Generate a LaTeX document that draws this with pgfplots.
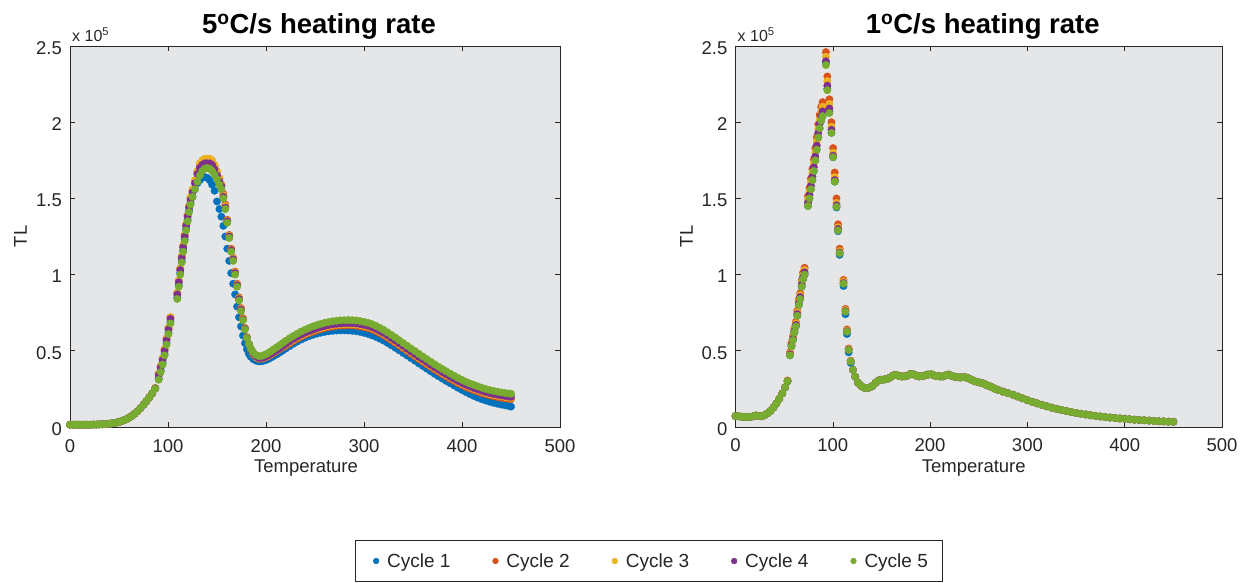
\documentclass[border=0pt]{standalone}
\usepackage{pgfplots}
\pgfplotsset{compat=1.18}
\usepackage{pgfplotstable}
\usepackage{fontspec}
\setmainfont{Liberation Sans}
\definecolor{c1}{RGB}{0,114,189}
\definecolor{c2}{RGB}{217,83,25}
\definecolor{c3}{RGB}{237,177,32}
\definecolor{c4}{RGB}{126,47,142}
\definecolor{c5}{RGB}{119,172,48}
\definecolor{bgg}{RGB}{229,230,232}
\definecolor{axc}{RGB}{38,38,38}

\pgfplotstableread{
x c1 c2 c3 c4 c5
0 .015 .015 .015 .015 .015
3 .015 .015 .015 .015 .015
6 .015 .015 .015 .015 .015
9 .015 .015 .015 .015 .015
12 .015 .015 .015 .015 .015
15 .015 .015 .015 .015 .015
18 .015 .015 .015 .015 .015
21 .015 .015 .015 .015 .015
24 .016 .016 .016 .016 .016
27 .016 .016 .016 .016 .016
30 .017 .017 .017 .017 .017
33 .018 .018 .018 .018 .018
36 .019 .019 .019 .019 .019
39 .021 .021 .021 .021 .021
42 .023 .023 .023 .023 .023
45 .026 .026 .026 .026 .026
48 .030 .030 .030 .030 .030
51 .035 .035 .035 .035 .035
54 .042 .042 .042 .042 .042
57 .050 .050 .050 .050 .050
60 .060 .060 .060 .060 .060
63 .072 .072 .072 .072 .072
66 .087 .087 .087 .087 .087
69 .104 .104 .104 .104 .104
72 .124 .124 .124 .124 .124
75 .146 .146 .146 .146 .146
78 .170 .170 .170 .170 .170
81 .195 .195 .195 .195 .195
84 .222 .222 .222 .222 .222
87 .252 .255 .256 .254 .252
90.5 .32 .35 .35 .34 .31
92.5 .37 .40 .40 .39 .36
94.5 .42 .45 .45 .44 .41
96.5 .48 .51 .51 .50 .47
98.5 .55 .58 .58 .57 .54
100.5 .62 .65 .65 .64 .61
102.5 .69 .72 .72 .71 .68
109.5 .85 .88 .88 .87 .84
111 .93 .96 .96 .95 .92
112.5 1.01 1.04 1.04 1.03 1.00
114 1.09 1.12 1.12 1.11 1.08
115.5 1.16 1.19 1.19 1.18 1.15
117 1.23 1.26 1.26 1.25 1.22
118.5 1.30 1.33 1.33 1.32 1.29
120 1.36 1.39 1.39 1.38 1.35
121.5 1.42 1.45 1.45 1.44 1.41
123 1.47 1.50 1.51 1.49 1.46
125 1.51 1.55 1.56 1.54 1.51
127.5 1.56 1.61 1.62 1.60 1.56
130 1.60 1.67 1.68 1.66 1.61
132.5 1.62 1.72 1.73 1.70 1.65
135 1.635 1.74 1.75 1.72 1.68
137.5 1.64 1.75 1.76 1.73 1.695
140 1.635 1.75 1.76 1.73 1.70
142.5 1.62 1.75 1.76 1.73 1.695
145 1.59 1.74 1.75 1.72 1.68
147.5 1.55 1.71 1.72 1.69 1.655
150 1.48 1.67 1.68 1.65 1.625
152.5 1.43 1.63 1.63 1.61 1.59
154.5 1.38 1.59 1.59 1.58 1.56
156.5 1.32 1.53 1.52 1.51 1.50
158.5 1.25 1.46 1.45 1.44 1.43
160.5 1.17 1.36 1.355 1.35 1.34
162.5 1.09 1.26 1.255 1.25 1.24
164.5 1.01 1.17 1.165 1.16 1.15
166.5 0.94 1.11 1.105 1.10 1.09
168.5 0.87 1.02 1.015 1.01 1.00
170.5 0.79 0.94 0.935 0.93 0.92
172.5 0.72 0.85 0.845 0.84 0.83
174.5 0.66 0.78 0.775 0.77 0.76
176.5 0.60 0.715 0.71 0.705 0.70
178.5 0.55 0.65 0.648 0.645 0.64
180.5 0.51 0.59 0.588 0.586 0.585
182.5 0.48 0.545 0.545 0.545 0.545
184.5 0.46 0.51 0.512 0.513 0.515
187 .445 .475 .478 .482 .49
190 .435 .455 .458 .462 .472
193 .43 .447 .45 .453 .465
196 .431 .448 .45 .453 .467
199 .437 .455 .457 .46 .475
202 .445 .463 .466 .469 .485
205 .455 .474 .477 .48 .497
208 .466 .486 .489 .492 .51
211 .477 .498 .501 .504 .523
214 .489 .511 .514 .517 .537
217 .501 .523 .527 .531 .551
220 .514 .532 .54 .545 .565
224 .53 .548 .556 .562 .582
228 .546 .564 .572 .578 .598
232 .561 .579 .587 .593 .613
236 .574 .593 .601 .607 .627
240 .586 .605 .613 .619 .639
244 .596 .615 .623 .629 .65
248 .605 .625 .633 .639 .66
252 .613 .634 .642 .648 .669
256 .619 .642 .65 .656 .677
260 .624 .649 .657 .663 .684
264 .628 .655 .663 .669 .689
268 .631 .659 .667 .673 .694
272 .633 .663 .671 .677 .697
276 .634 .665 .673 .679 .70
280 .634 .666 .675 .681 .701
284 .633 .667 .676 .682 .702
288 .631 .666 .675 .681 .701
292 .628 .664 .673 .679 .699
296 .624 .66 .669 .675 .695
300 .618 .655 .664 .67 .69
304 .611 .649 .658 .664 .684
308 .602 .64 .649 .655 .675
312 .592 .629 .638 .644 .664
316 .58 .616 .625 .631 .651
320 .567 .602 .611 .617 .637
324 .552 .586 .595 .601 .621
328 .536 .569 .578 .584 .604
332 .52 .552 .561 .567 .587
336 .503 .534 .543 .549 .569
340 .486 .516 .525 .531 .551
344 .469 .498 .507 .513 .533
348 .452 .48 .489 .495 .515
352 .435 .463 .472 .478 .498
356 .417 .445 .454 .46 .48
360 .40 .428 .437 .443 .463
364 .383 .411 .42 .426 .446
368 .366 .394 .403 .409 .429
372 .349 .377 .386 .392 .412
376 .333 .361 .37 .376 .396
380 .317 .345 .354 .36 .38
384 .302 .33 .339 .345 .365
388 .287 .315 .324 .33 .35
392 .272 .301 .31 .316 .336
396 .257 .287 .296 .302 .322
400 .243 .274 .283 .289 .309
404 .229 .262 .271 .277 .297
408 .216 .251 .26 .266 .286
412 .204 .241 .25 .256 .276
416 .193 .232 .241 .247 .267
420 .183 .223 .232 .238 .258
424 .174 .215 .224 .23 .25
428 .166 .208 .217 .223 .243
432 .159 .202 .211 .217 .237
436 .153 .197 .206 .212 .232
440 .147 .192 .201 .207 .227
444 .142 .188 .197 .203 .223
448 .137 .185 .194 .20 .22
450 .134 .183 .192 .198 .218
}\lefttab

\pgfplotstableread{
x c1 c2 c3 c4 c5
0 .072 .072 .072 .072 .072
3 .07 .07 .07 .07 .07
6 .068 .068 .068 .068 .068
9 .066 .066 .066 .066 .066
12 .065 .065 .065 .065 .065
15 .066 .066 .066 .066 .066
18 .07 .07 .07 .07 .07
21 .075 .075 .075 .075 .075
24 .072 .072 .072 .072 .072
27 .071 .071 .071 .071 .071
30 .078 .078 .078 .078 .078
33 .09 .09 .09 .09 .09
36 .105 .105 .105 .105 .105
39 .128 .128 .128 .128 .128
42 .155 .155 .155 .155 .155
45 .185 .185 .185 .185 .185
48 .22 .22 .22 .22 .22
51 .26 .262 .261 .26 .26
53.5 .30 .305 .303 .301 .30
56 .47 .491 .484 .477 .47
57.5 .53 .554 .546 .538 .53
59 .57 .596 .587 .579 .57
60.5 .62 .648 .639 .629 .62
62 .66 .69 .68 .67 .66
63.5 .73 .763 .752 .741 .73
65 .80 .836 .824 .812 .80
66.5 .84 .878 .865 .853 .84
68 .92 .961 .948 .934 .92
69.5 .97 1.014 .999 .985 .97
71 1.0 1.045 1.03 1.015 1.0
74.5 1.45 1.515 1.494 1.472 1.45
76 1.50 1.568 1.545 1.523 1.50
77.5 1.56 1.63 1.607 1.583 1.56
79 1.62 1.693 1.669 1.644 1.62
80.5 1.68 1.756 1.73 1.705 1.68
82 1.75 1.829 1.803 1.776 1.75
83.5 1.82 1.902 1.875 1.847 1.82
85 1.90 1.986 1.957 1.929 1.90
86.5 1.96 2.048 2.019 1.989 1.96
88 2.01 2.1 2.07 2.04 2.01
89.5 2.04 2.132 2.101 2.071 2.04
92.9 2.39 2.46 2.43 2.40 2.375
94.4 2.22 2.30 2.27 2.24 2.21
96.5 2.07 2.15 2.12 2.09 2.06
98.6 1.93 2.0 1.97 1.95 1.93
100.3 1.77 1.83 1.80 1.78 1.77
102 1.61 1.67 1.64 1.62 1.61
103.8 1.44 1.50 1.47 1.455 1.445
105.4 1.285 1.33 1.31 1.30 1.29
107 1.13 1.17 1.155 1.145 1.14
111 .925 .965 .955 .945 .94
113 .74 .775 .767 .76 .757
114.6 .61 .64 .632 .627 .625
116.3 .49 .515 .51 .507 .505
118.4 .42 .435 .432 .43 .43
120.7 .375 .375 .375 .375 .375
123 .33 .33 .33 .33 .33
126 .29 .29 .29 .29 .29
129 .27 .27 .27 .27 .27
132 .258 .258 .258 .258 .258
135 .255 .255 .255 .255 .255
138 .26 .26 .26 .26 .26
141 .27 .27 .27 .27 .27
144 .29 .29 .29 .29 .29
147 .305 .305 .305 .305 .305
150 .31 .31 .31 .31 .31
153 .312 .312 .312 .312 .312
156 .316 .316 .316 .316 .316
159 .325 .325 .325 .325 .325
162 .338 .338 .338 .338 .338
165 .342 .342 .342 .342 .342
168 .335 .335 .335 .335 .335
171 .331 .331 .331 .331 .331
174 .333 .333 .333 .333 .333
177 .338 .338 .338 .338 .338
180 .348 .348 .348 .348 .348
183 .345 .345 .345 .345 .345
186 .336 .336 .336 .336 .336
189 .332 .332 .332 .332 .332
192 .334 .334 .334 .334 .334
195 .339 .339 .339 .339 .339
198 .344 .344 .344 .344 .344
201 .346 .346 .346 .346 .346
204 .339 .339 .339 .339 .339
207 .334 .334 .334 .334 .334
210 .332 .332 .332 .332 .332
213 .332 .332 .332 .332 .332
216 .339 .339 .339 .339 .339
219 .344 .344 .344 .344 .344
222 .336 .336 .336 .336 .336
225 .33 .33 .33 .33 .33
228 .327 .327 .327 .327 .327
231 .325 .325 .325 .325 .325
234 .327 .327 .327 .327 .327
237 .325 .325 .325 .325 .325
240 .318 .318 .318 .318 .318
243 .308 .308 .308 .308 .308
246 .30 .30 .30 .30 .30
249 .295 .295 .295 .295 .295
252 .29 .29 .29 .29 .29
255 .285 .285 .285 .285 .285
258 .275 .275 .275 .275 .275
261 .268 .268 .268 .268 .268
264 .26 .26 .26 .26 .26
267 .25 .25 .25 .25 .25
270 .243 .243 .243 .243 .243
275 .232 .232 .232 .232 .232
280 .222 .222 .222 .222 .222
285 .212 .212 .212 .212 .212
290 .20 .20 .20 .20 .20
295 .188 .188 .188 .188 .188
300 .176 .176 .176 .176 .176
305 .165 .165 .165 .165 .165
310 .155 .155 .155 .155 .155
315 .145 .145 .145 .145 .145
320 .136 .136 .136 .136 .136
325 .127 .127 .127 .127 .127
330 .119 .119 .119 .119 .119
335 .112 .112 .112 .112 .112
340 .105 .105 .105 .105 .105
345 .098 .098 .098 .098 .098
350 .092 .092 .092 .092 .092
355 .087 .087 .087 .087 .087
360 .082 .082 .082 .082 .082
365 .077 .077 .077 .077 .077
370 .073 .073 .073 .073 .073
375 .069 .069 .069 .069 .069
380 .065 .065 .065 .065 .065
385 .062 .062 .062 .062 .062
390 .059 .059 .059 .059 .059
395 .056 .056 .056 .056 .056
400 .054 .054 .054 .054 .054
405 .051 .051 .051 .051 .051
410 .048 .048 .048 .048 .048
415 .046 .046 .046 .046 .046
420 .044 .044 .044 .044 .044
425 .042 .042 .042 .042 .042
430 .04 .04 .04 .04 .04
435 .038 .038 .038 .038 .038
440 .037 .037 .037 .037 .037
445 .035 .035 .035 .035 .035
450 .034 .034 .034 .034 .034
}\righttab

\pgfplotsset{
  tlstyle/.style={
    scale only axis, height=381bp,
    xmin=0, xmax=500, ymin=0, ymax=2.5,
    xtick={0,100,200,300,400,500},
    xticklabels={0,100,200,300,400,500},
    ytick={0,0.5,1,1.5,2,2.5},
    yticklabels={0,0.5,1,1.5,2,2.5},
    /pgf/number format/assume math mode=true,
    axis background/.style={fill=bgg},
    axis line style={axc, line width=0.6bp},
    every tick/.style={axc, line width=0.6bp},
    major tick length=5bp,
    tick align=inside,
    ticklabel style={font=\fontsize{18.5bp}{21bp}\selectfont, text=axc},
    xticklabel style={anchor=base, inner sep=0pt, yshift=-25bp},
    yticklabel style={anchor=east, inner sep=0pt, xshift=-8bp, yshift=-2bp},
    title style={at={(axis description cs:0.5,1)}, anchor=base, yshift=7bp, xshift=4bp, inner sep=0pt,
      font=\bfseries\fontsize{27.5bp}{30bp}\selectfont},
    xlabel style={at={(axis description cs:0.5,0)}, anchor=base, yshift=-45bp, inner sep=0pt,
      font=\fontsize{18.5bp}{21bp}\selectfont, text=axc},
    ylabel style={at={(axis description cs:-0.0878,0.5)}, anchor=base, inner sep=0pt,
      font=\fontsize{18.5bp}{21bp}\selectfont, text=axc},
    xlabel={Temperature}, ylabel={TL},
    clip=false,
    every axis plot/.append style={only marks, mark=*, mark size=3.7bp},
  }
}

\begin{document}
\begin{tikzpicture}
\useasboundingbox (0,0) rectangle (1259bp,583bp);
\begin{axis}[tlstyle, width=490bp, at={(70bp,156bp)}, anchor=south west,
  title={5\textsuperscript{o}C/s heating rate},
  xlabel style={xshift=-9bp},
  legend columns=5,
  legend image code/.code={\path[draw=none, fill=none] (0bp,-4bp) rectangle (18bp,4bp); \draw[#1, mark size=2.8bp] plot coordinates {(9bp,0bp)};},
  legend style={at={(axis description cs:1.1806,-0.3517)}, anchor=center,
    draw=axc, line width=0.6bp, fill=white, text=axc,
    font=\fontsize{19bp}{21bp}\selectfont,
    inner xsep=12bp, inner ysep=11bp,
    /tikz/every even column/.append style={column sep=34bp}},
  legend cell align=left]
\addplot[c1, mark options={draw=none, fill=c1}] table[x=x, y=c1]{\lefttab};
\addlegendentry{Cycle 1}
\addplot[c2, mark options={draw=none, fill=c2}] table[x=x, y=c2]{\lefttab};
\addlegendentry{Cycle 2}
\addplot[c3, mark options={draw=none, fill=c3}] table[x=x, y=c3]{\lefttab};
\addlegendentry{Cycle 3}
\addplot[c4, mark options={draw=none, fill=c4}] table[x=x, y=c4]{\lefttab};
\addlegendentry{Cycle 4}
\addplot[c5, mark options={draw=none, fill=c5}] table[x=x, y=c5]{\lefttab};
\addlegendentry{Cycle 5}
\node[anchor=base west, inner sep=0pt, text=axc, font=\fontsize{16bp}{18bp}\selectfont]
  at (axis description cs:0,1) [xshift=2bp, yshift=4.5bp] {x 10\textsuperscript{5}};
\end{axis}
\begin{axis}[tlstyle, width=486.5bp, at={(735.5bp,156bp)}, anchor=south west,
  title={1\textsuperscript{o}C/s heating rate},
  xlabel style={xshift=-5bp}]
\addplot[c1, mark options={draw=none, fill=c1}] table[x=x, y=c1]{\righttab};
\addplot[c2, mark options={draw=none, fill=c2}] table[x=x, y=c2]{\righttab};
\addplot[c3, mark options={draw=none, fill=c3}] table[x=x, y=c3]{\righttab};
\addplot[c4, mark options={draw=none, fill=c4}] table[x=x, y=c4]{\righttab};
\addplot[c5, mark options={draw=none, fill=c5}] table[x=x, y=c5]{\righttab};
\node[anchor=base west, inner sep=0pt, text=axc, font=\fontsize{16bp}{18bp}\selectfont]
  at (axis description cs:0,1) [xshift=2bp, yshift=4.5bp] {x 10\textsuperscript{5}};
\end{axis}
\end{tikzpicture}
\end{document}
